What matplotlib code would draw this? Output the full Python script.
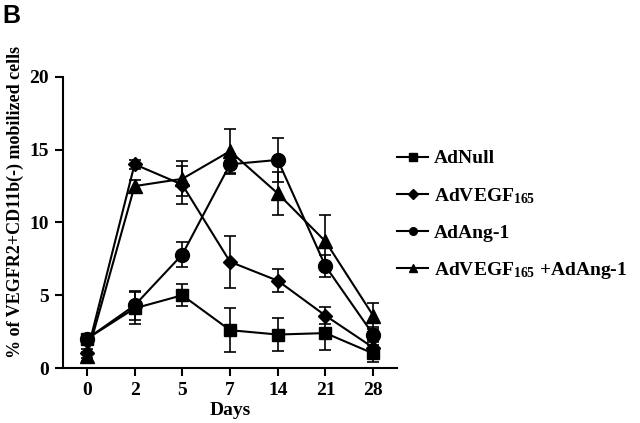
import matplotlib
matplotlib.use("Agg")
import matplotlib.pyplot as plt
from matplotlib.lines import Line2D

plt.rcParams['mathtext.fontset'] = 'custom'
plt.rcParams['mathtext.rm'] = 'Liberation Serif:bold'
plt.rcParams['mathtext.it'] = 'Liberation Serif:bold'
plt.rcParams['mathtext.bf'] = 'Liberation Serif:bold'

days = ["0", "2", "5", "7", "14", "21", "28"]

adnull = [2.0, 4.1, 5.0, 2.6, 2.3, 2.4, 1.0]
adnull_err = [0.3, 1.1, 0.75, 1.5, 1.15, 1.15, 0.6]

advegf = [1.0, 14.0, 12.6, 7.3, 6.0, 3.6, 1.4]
advegf_err = [0.3, 0.3, 1.3, 1.8, 0.8, 0.6, 0.5]

adang = [2.0, 4.3, 7.8, 14.0, 14.3, 7.0, 2.3]
adang_err = [0.3, 1.0, 0.85, 0.7, 1.5, 0.75, 0.5]

combo = [0.8, 12.5, 13.0, 14.9, 12.0, 8.7, 3.6]
combo_err = [0.3, 0.4, 1.2, 1.5, 1.5, 1.8, 0.9]

labels = ["AdNull", r"AdVEGF$\mathrm{_{165}}$", "AdAng-1", r"AdVEGF$\mathrm{_{165}}$ +AdAng-1"]
series = [adnull, advegf, adang, combo]
errors = [adnull_err, advegf_err, adang_err, combo_err]
markers = ["s", "D", "o", "^"]
msizes = [8, 7.5, 10, 10]

fig = plt.figure(figsize=(6.4, 4.23), dpi=100)
ax = fig.add_axes([0.0984, 0.130, 0.522, 0.688])

x = list(range(len(days)))
handles = []
for y, e, m, ms, lab in zip(series, errors, markers, msizes, labels):
    ax.errorbar(x, y, yerr=e, color="black", lw=1.5, marker=m, ms=ms,
                capsize=4, elinewidth=1.2, capthick=1.2, zorder=3)
    handles.append(Line2D([], [], color="black", lw=1.5, marker=m, ms=5.5))

ax.set_xlim(-0.5, 6.5)
ax.set_ylim(0, 20)
ax.set_xticks(x)
ax.set_xticklabels(days)
ax.set_yticks([0, 5, 10, 15, 20])
for s in ["top", "right"]:
    ax.spines[s].set_visible(False)
for s in ["left", "bottom"]:
    ax.spines[s].set_linewidth(1.5)
ax.tick_params(direction="out", length=6, width=1.5, labelsize=14, pad=4)
for lbl in ax.get_xticklabels() + ax.get_yticklabels():
    lbl.set_fontfamily("Liberation Serif")
    lbl.set_fontweight("bold")

ax.set_xlabel("Days", fontfamily="Liberation Serif", fontweight="bold", fontsize=14, labelpad=2)
ax.set_ylabel("% of VEGFR2+CD11b(-) mobilized cells", fontfamily="Liberation Serif",
              fontweight="bold", fontsize=13)
ax.yaxis.set_label_coords(-0.118, 0.57)

leg = ax.legend(handles, labels, loc="upper left", bbox_to_anchor=(1.0, 0.75),
                frameon=False, handlelength=1.6, handletextpad=0.3,
                borderaxespad=0, borderpad=0,
                labelspacing=0.95, prop={"family": "Liberation Serif", "weight": "bold", "size": 14})

fig.text(0.003, 0.99, "B", fontfamily="Liberation Sans", fontweight="bold", fontsize=18,
         va="top", ha="left")

fig.savefig("out.png", dpi=100)
